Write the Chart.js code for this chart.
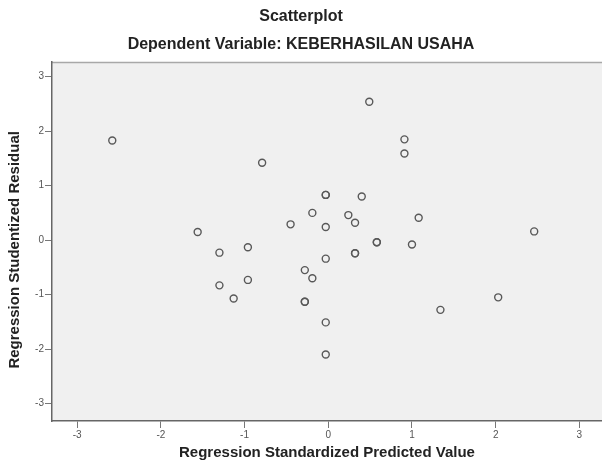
<!DOCTYPE html>
<html>
<head>
<meta charset="utf-8">
<script src="https://cdn.jsdelivr.net/npm/chart.js@4"></script>
<style>
html,body{margin:0;padding:0;background:#fff;}
#wrap{width:602px;height:466px;position:relative;}
</style>
</head>
<body>
<div id="wrap"><canvas id="c"></canvas></div>
<script>
const predicted = [-2.58, -0.79, -0.03, -0.03, -0.19, -0.45, -0.03, -1.56, 0.49, 0.91, 0.91, 0.40, 0.24, 0.32, 1.08, 2.46,
  -1.30, -0.96, -0.03, -0.28, -0.19, -1.30, -0.96, -1.13, -0.28, -0.28, -0.03, -0.03, 0.58, 0.58, 1.00, 0.32, 0.32, 2.03, 1.34];
const residual = [1.83, 1.42, 0.83, 0.83, 0.50, 0.29, 0.24, 0.15, 2.54, 1.85, 1.59, 0.80, 0.46, 0.32, 0.41, 0.16,
  -0.23, -0.13, -0.34, -0.55, -0.70, -0.83, -0.73, -1.07, -1.13, -1.13, -1.51, -2.10, -0.04, -0.04, -0.08, -0.24, -0.24, -1.05, -1.28];
const tickValues = [-3, -2, -1, 0, 1, 2, 3];

Chart.defaults.font.family = "'Liberation Sans', Arial, sans-serif";

const points = predicted.map((x, i) => ({x: x, y: residual[i]}));

const plotBg = {
  id: 'plotBg',
  beforeDraw(chart) {
    const {ctx, chartArea: a} = chart;
    ctx.save();
    ctx.fillStyle = '#f0f0f0';
    ctx.fillRect(a.left, a.top, a.right - a.left, a.bottom - a.top);
    ctx.strokeStyle = '#a8a8a8';
    ctx.lineWidth = 1.5;
    ctx.beginPath();
    ctx.moveTo(a.left, a.top + 0.5);
    ctx.lineTo(a.right, a.top + 0.5);
    ctx.stroke();
    ctx.restore();
  }
};

new Chart(document.getElementById('c'), {
  type: 'scatter',
  data: {
    datasets: [{
      data: points,
      pointStyle: 'circle',
      pointRadius: 3.5,
      pointHoverRadius: 3.5,
      pointBorderWidth: 1.4,
      pointBorderColor: '#585858',
      pointBackgroundColor: 'rgba(0,0,0,0)'
    }]
  },
  options: {
    responsive: true,
    maintainAspectRatio: false,
    animation: false,
    layout: {padding: 0, autoPadding: false},
    plugins: {
      legend: {display: false},
      tooltip: {enabled: false},
      title: {
        display: true,
        text: 'Scatterplot',
        color: '#222',
        font: {size: 16, weight: 'bold'},
        padding: {top: 7.4, bottom: 0}
      },
      subtitle: {
        display: true,
        text: 'Dependent Variable: KEBERHASILAN USAHA',
        color: '#222',
        font: {size: 16, weight: 'bold'},
        padding: {top: 8.8, bottom: 7.4}
      }
    },
    scales: {
      x: {
        type: 'linear',
        min: -3.3,
        max: 3.27,
        afterBuildTicks(scale) { scale.ticks = tickValues.map(v => ({value: v})); },
        afterFit(scale) { scale.height = 45; scale.paddingRight = 0; scale.paddingLeft = 0; },
        grid: {drawOnChartArea: false, drawTicks: true, tickLength: 7, color: '#777'},
        border: {display: true, color: '#666', width: 1.5},
        ticks: {color: '#555', font: {size: 10}, padding: 1, maxRotation: 0},
        title: {
          display: true,
          text: 'Regression Standardized Predicted Value',
          color: '#222',
          font: {size: 15, weight: 'bold'},
          padding: {top: 0, bottom: 4}
        }
      },
      y: {
        type: 'linear',
        min: -3.32,
        max: 3.27,
        afterBuildTicks(scale) { scale.ticks = tickValues.map(v => ({value: v})); },
        afterFit(scale) { scale.width = 52; scale.paddingTop = 0; scale.paddingBottom = 0; },
        grid: {drawOnChartArea: false, drawTicks: true, tickLength: 7, color: '#777'},
        border: {display: true, color: '#666', width: 1.5},
        ticks: {color: '#555', font: {size: 10}, padding: 1},
        title: {
          display: true,
          text: 'Regression Studentized Residual    ',
          color: '#222',
          font: {size: 15, weight: 'bold'},
          padding: {top: 6, bottom: 0}
        }
      }
    }
  },
  plugins: [plotBg]
});
</script>
</body>
</html>
